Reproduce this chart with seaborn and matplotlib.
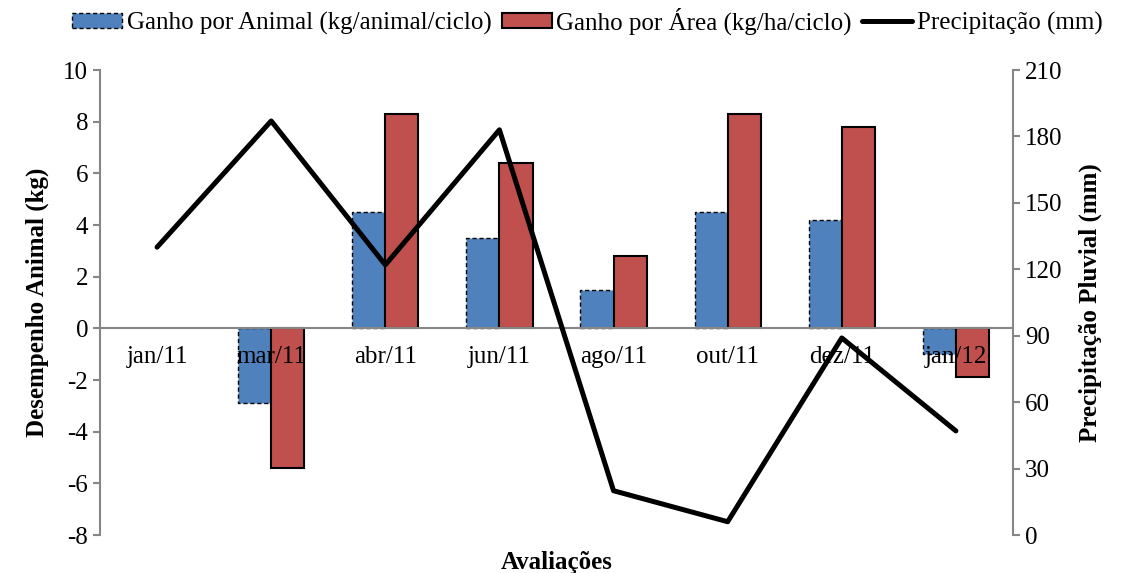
import numpy as np
import pandas as pd
import matplotlib
matplotlib.use('Agg')
import matplotlib.pyplot as plt
import seaborn as sns

# data
meses = ['jan/11', 'mar/11', 'abr/11', 'jun/11', 'ago/11', 'out/11', 'dez/11', 'jan/12']
ganho_animal = [0.0, -2.9, 4.5, 3.5, 1.5, 4.5, 4.2, -1.0]
ganho_area = [0.0, -5.4, 8.3, 6.4, 2.8, 8.3, 7.8, -1.9]
precipitacao = [130, 187, 122, 183, 20, 6, 89, 47]

serie_animal = 'Ganho por Animal (kg/animal/ciclo)'
serie_area = 'Ganho por Área (kg/ha/ciclo)'
serie_chuva = 'Precipitação (mm)'

df = pd.DataFrame({
    'mes': meses * 2,
    'valor': ganho_animal + ganho_area,
    'serie': [serie_animal] * len(meses) + [serie_area] * len(meses),
})

sns.set_style('white')
plt.rcParams['font.family'] = ['Liberation Serif', 'DejaVu Serif']
plt.rcParams['font.size'] = 18
plt.rcParams['axes.unicode_minus'] = False
plt.rcParams['text.color'] = 'black'
plt.rcParams['axes.labelcolor'] = 'black'
plt.rcParams['xtick.labelcolor'] = 'black'
plt.rcParams['ytick.labelcolor'] = 'black'

cinza = '#868686'
azul = '#4F81BD'
vermelho = '#C0504D'

fig = plt.figure(figsize=(11.25, 5.73), dpi=100)
ax = fig.add_axes([0.0889, 0.0663, 0.8115, 0.8115])

sns.barplot(data=df, x='mes', y='valor', hue='serie', order=meses,
            palette=[azul, vermelho], saturation=1, width=0.58, ax=ax, legend=False)

# edge styles: blue dashed, red solid
for p in ax.containers[0]:
    p.set_edgecolor('black')
    p.set_linestyle((0, (3, 2)))
    p.set_linewidth(1.0)
for p in ax.containers[1]:
    p.set_edgecolor('black')
    p.set_linewidth(1.5)
for p in ax.patches:
    if p.get_height() == 0:
        p.set_visible(False)

ax.set_axisbelow(False)
ax.set_xlim(-0.5, len(meses) - 0.5)
ax.set_ylim(-8, 10)
ax.set_yticks(np.arange(-8, 11, 2))

# x axis crosses at zero, tick marks between categories, labels at centers
ax.spines['bottom'].set_position(('data', 0))
ax.spines['top'].set_visible(False)
ax.spines['right'].set_visible(False)
for s in ['bottom', 'left']:
    ax.spines[s].set_color(cinza)
    ax.spines[s].set_linewidth(1.5)
ax.set_xticks(np.arange(0.5, len(meses) - 1, 1))
ax.set_xticklabels([])
ax.set_xticks(np.arange(len(meses)), minor=True)
ax.set_xticklabels(meses, minor=True)
ax.tick_params(axis='x', which='major', direction='out', length=6, width=1.5, color=cinza)
ax.tick_params(axis='x', which='minor', length=0, pad=13, labelsize=18, labelcolor='black')
ax.tick_params(axis='y', direction='out', length=5, width=1.5, color=cinza, labelsize=18,
               labelcolor='black', left=True)

ax.set_xlabel('Avaliações', fontweight='bold', fontsize=18, color='black')
ax.xaxis.set_label_coords(0.5, -0.035)
ax.set_ylabel('Desempenho Animal (kg)', fontweight='bold', fontsize=18, labelpad=10, color='black')

# precipitation on secondary axis
ax2 = ax.twinx()
sns.lineplot(x=np.arange(len(meses)), y=precipitacao, color='black', linewidth=3.6, ax=ax2)
ax2.set_ylim(0, 210)
ax2.set_yticks(np.arange(0, 211, 30))
for s in ['top', 'left', 'bottom']:
    ax2.spines[s].set_visible(False)
ax2.spines['right'].set_color(cinza)
ax2.spines['right'].set_linewidth(1.5)
ax2.tick_params(axis='y', direction='out', length=5, width=1.5, color=cinza, labelsize=18,
                labelcolor='black', right=True)
ax2.set_ylabel('Precipitação Pluvial (mm)', fontweight='bold', fontsize=18, labelpad=12, color='black')
ax2.grid(False)
ax.grid(False)

handles = [ax.containers[0][1], ax.containers[1][1], ax2.lines[0]]
fig.legend(handles, [serie_animal, serie_area, serie_chuva], loc='center',
           bbox_to_anchor=(0.522, 0.963), ncol=3, frameon=False, fontsize=18,
           handlelength=2.0, handleheight=0.5, handletextpad=0.2, columnspacing=0.4)

fig.savefig('out.png', dpi=100)
